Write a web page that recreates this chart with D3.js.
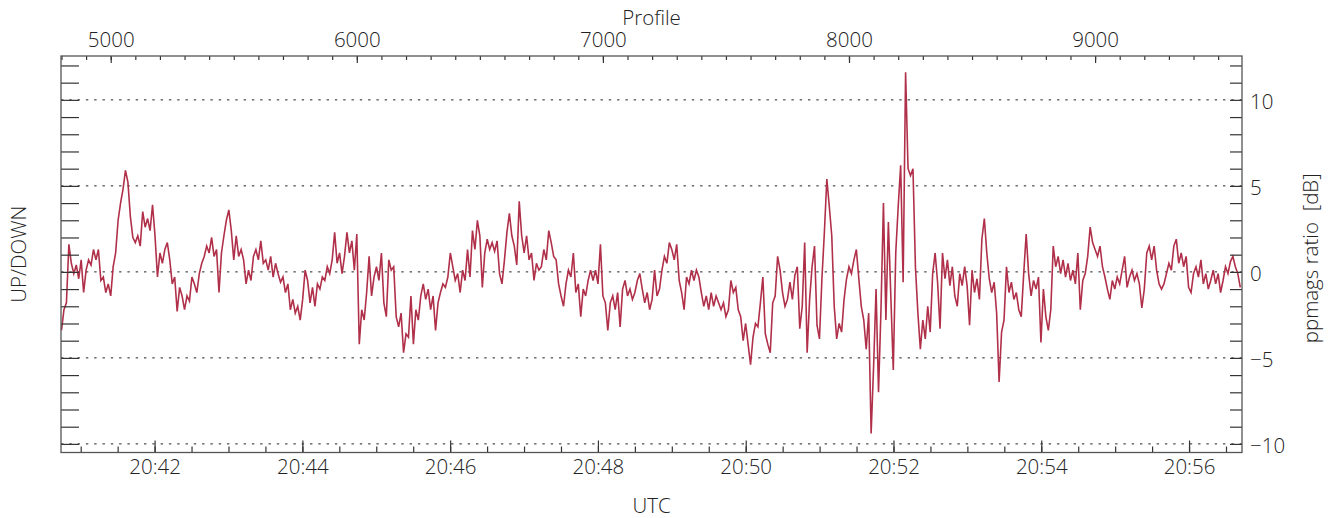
<!DOCTYPE html>
<html>
<head>
<meta charset="utf-8">
<script src="https://cdn.jsdelivr.net/npm/d3@7"></script>
<style>
  html, body { margin: 0; padding: 0; background: #fff; }
  svg { display: block; }
  .lbl { fill: #222; font-family: "Open Sans", "DejaVu Sans", sans-serif; font-size: 20.5px; font-weight: 300; }
</style>
</head>
<body>
<svg id="chart" width="1335" height="518"></svg>
<script>
// Profile numbering of the first sample and sampling step between samples
const profileStart = 4800;
const profileStep = 10;

// UP/DOWN power ratio in dB, one value per 10 profiles (rows of 100 profiles)
const ratioDb = [
  -3.4, -2.2, -1.8, 1.6, 0.5, -0.1, 0.4, -0.4, 0.7, -1.2,   // 4800
  0.1, 0.7, 0.4, 1.3, 0.7, 1.3, -0.5, -0.3, -1.2, -0.7,      // 4900
  -1.4, 0.3, 1.1, 3.0, 4.0, 4.8, 5.9, 5.2, 3.2, 2.0,         // 5000
  1.7, 2.1, 1.5, 3.5, 2.6, 3.1, 2.4, 3.9, 2.1, -0.3,         // 5100
  1.1, 0.5, 1.3, 1.7, 0.7, -0.7, -0.3, -2.3, -0.9, -1.4,     // 5200
  -2.2, -1.4, -1.7, -0.3, -0.7, -1.2, -0.1, 0.5, 0.9, 1.5,   // 5300
  1.1, 2.0, 0.9, 1.3, -1.2, 1.1, 2.1, 3.0, 3.6, 2.4,         // 5400
  0.7, 2.1, 0.9, 1.3, 0.7, -0.7, 0.1, -0.5, 0.9, 1.3,        // 5500
  0.7, 1.8, 0.5, 0.7, 0.1, 0.9, -0.3, 0.5, -0.1, -0.6,       // 5600
  -0.3, -1.2, -0.7, -2.2, -1.6, -2.4, -2.0, -2.8, -1.6, 0.1, // 5700
  -0.5, -1.8, -0.9, -2.0, -0.7, -1.0, -0.3, -0.5, 0.3, -0.1, // 5800
  0.7, 2.3, 0.5, 1.1, -0.1, 0.9, 2.3, 1.1, 1.8, 0.1,         // 5900
  2.2, -4.2, -2.2, -2.8, -1.2, 0.9, -1.4, -0.3, 0.3, -0.5,   // 6000
  1.1, -1.8, -2.6, 0.7, 0.1, 0.3, -2.6, -3.2, -2.4, -4.7,    // 6100
  -3.6, -3.8, -1.4, -4.2, -2.2, -2.8, -1.4, -0.7, -1.6, -1.0,// 6200
  -2.2, -1.4, -3.4, -1.8, -1.2, -0.7, -0.9, -0.3, 1.1, 0.3,  // 6300
  -0.5, -0.1, -1.2, 0.1, -0.5, 1.3, -0.3, 2.4, 1.3, 3.0,     // 6400
  2.1, -0.9, 1.1, 1.9, 1.3, 1.7, 1.2, 1.8, -0.1, -0.7,       // 6500
  0.7, 2.3, 3.4, 2.1, 1.5, 0.4, 4.1, 2.1, 1.1, 2.1,          // 6600
  0.7, 1.1, -0.5, 0.5, 0.1, 0.3, 1.3, 0.7, 2.4, 1.7,         // 6700
  0.9, 0.7, -0.7, -1.4, -2.0, -0.7, 0.1, -0.3, 1.1, -1.2,    // 6800
  -0.7, -2.6, -1.0, -1.4, -0.5, 0.1, -0.5, 0.1, -0.7, 1.6,   // 6900
  -1.4, -1.8, -3.4, -1.8, -1.4, -2.2, -1.2, -3.2, -1.0, -0.5,// 7000
  -1.4, -1.0, -1.6, -1.2, -0.5, -0.1, -1.0, -1.8, -1.2, -2.2,// 7100
  -1.6, 0.1, -1.4, -1.0, 0.1, 0.9, 0.5, 1.7, 1.3, 0.7,       // 7200
  1.6, -0.5, -1.2, -2.2, -0.3, -0.7, 0.1, -0.5, 0.1, -0.3,   // 7300
  -1.2, -2.0, -1.4, -2.2, -1.2, -2.0, -1.4, -1.8, -2.2, -1.8,// 7400
  -2.6, -2.2, -0.5, -1.2, -0.9, -2.2, -2.6, -4.0, -3.0, -4.2,// 7500
  -5.4, -3.8, -3.0, -3.2, -1.8, -0.3, -3.6, -4.2, -4.7, -1.8,// 7600
  -1.4, 0.9, 0.1, -1.2, -2.0, -1.6, -0.6, -1.6, -0.2, 0.3,   // 7700
  -3.3, -2.0, 1.7, -4.7, -1.6, 0.3, 1.5, -3.1, -3.9, -0.4,   // 7800
  2.3, 5.4, 3.8, 2.1, -2.0, -3.9, -3.0, -3.5, -1.6, -0.4,    // 7900
  0.3, -0.1, 0.7, 1.3, -0.4, -2.0, -2.8, -4.5, -2.4, -9.4,   // 8000
  -5.5, -1.0, -7.0, -2.2, 4.0, -2.8, 2.9, -1.4, -5.7, 1.1,   // 8100
  3.8, 6.2, -0.6, 11.6, 6.0, 5.6, 6.0, 0.3, -2.4, -4.5,      // 8200
  -2.8, -3.9, -2.0, -3.5, -0.1, 1.1, -0.6, -3.3, 1.1, -0.4,  // 8300
  0.7, -0.8, 0.3, -1.4, -2.0, -0.1, -0.8, 0.3, -0.8, -3.1,   // 8400
  0.1, -1.2, -0.4, -1.6, 1.9, 3.1, 1.1, -0.4, -1.2, -0.6,    // 8500
  -2.4, -6.4, -3.5, -2.8, 0.3, -1.2, -0.6, -1.6, -1.2, -2.2, // 8600
  -2.6, -0.1, 2.2, -0.1, -1.4, -0.5, -1.0, -0.3, -4.1, -1.0, // 8700
  -2.6, -3.4, -2.2, 1.5, 0.3, 0.9, -0.1, 0.7, -0.3, 0.5,     // 8800
  -0.5, 0.1, -0.7, 1.1, -2.2, -0.5, -0.1, 0.9, 2.6, 1.7,     // 8900
  1.3, 0.9, 1.5, 0.3, -0.3, -1.0, -1.6, -0.5, -1.0, -0.3,    // 9000
  -0.7, 0.1, 0.9, -0.9, -0.3, 0.1, -0.5, -0.1, -0.7, -2.1,   // 9100
  -1.0, 1.1, 1.5, 0.7, 1.5, 0.1, -0.7, -1.0, -0.7, -0.1,     // 9200
  0.5, 0.1, 1.5, 1.9, 0.5, 1.1, 0.3, 0.9, -0.9, -1.2,        // 9300
  -0.1, 0.3, -0.3, 0.7, -0.7, -0.1, -1.0, -0.5, 0.1, -0.7,   // 9400
  -0.1, -1.2, -0.5, 0.3, -0.1, 0.6, 0.9, 0.3, -0.1, -0.9     // 9500
];

// Axis extents and tick values
const profileDomain = [4798, 9597];
const dbDomain = [-10.5, 12.55];
const utcDomain = [new Date(Date.UTC(2000, 0, 1, 20, 40, 44.2)), new Date(Date.UTC(2000, 0, 1, 20, 56, 43.1))];
const profileMajorTicks = [5000, 6000, 7000, 8000, 9000];
const dbLabelTicks = [-10, -5, 0, 5, 10];
const dbGridLevels = [-10, -5, 0, 5, 10];

const margin = { left: 61, top: 56, right: 93, bottom: 65.5 };
const W = 1335, H = 518;
const iw = W - margin.left - margin.right;
const ih = H - margin.top - margin.bottom;

const svg = d3.select("#chart");
const g = svg.append("g").attr("transform", `translate(${margin.left},${margin.top})`);

const x = d3.scaleLinear().domain(profileDomain).range([0, iw]);
const y = d3.scaleLinear().domain(dbDomain).range([ih, 0]);
const t = d3.scaleUtc().domain(utcDomain).range([0, iw]);

// dotted reference levels
g.append("g").selectAll("line").data(dbGridLevels).join("line")
  .attr("x1", 0).attr("x2", iw)
  .attr("y1", d => y(d)).attr("y2", d => y(d))
  .attr("stroke", "#222").attr("stroke-width", 1)
  .attr("stroke-dasharray", "2.4,5.9");

// ratio trace
g.append("clipPath").attr("id", "plotclip")
  .append("rect").attr("width", iw).attr("height", ih);

const series = ratioDb.map((v, i) => ({ p: profileStart + i * profileStep, v }));
g.append("path")
  .datum(series)
  .attr("clip-path", "url(#plotclip)")
  .attr("fill", "none")
  .attr("stroke", "#b0304a")
  .attr("stroke-width", 1.6)
  .attr("stroke-linejoin", "miter")
  .attr("d", d3.line().x(d => x(d.p)).y(d => y(d.v)));

function styleAxis(sel) {
  sel.attr("font-family", null).attr("font-size", null);
  sel.select(".domain").remove();
  sel.selectAll(".tick line").attr("stroke", "#333").attr("stroke-width", 1.2);
  sel.selectAll(".tick text").attr("class", "lbl").attr("fill", null);
}

// top: profile axis (minor every 100, major every 1000)
const profileMinor = d3.range(4800, 9600, 100);
g.append("g").call(d3.axisTop(x).tickValues(profileMinor).tickSize(-4).tickFormat(""))
  .call(styleAxis);
g.append("g").call(d3.axisTop(x).tickValues(profileMajorTicks).tickSize(-7).tickPadding(9).tickFormat(d3.format("d")))
  .call(styleAxis);

// bottom: UTC axis (minor every 30 s, labels every 2 min)
g.append("g").attr("transform", `translate(0,${ih})`)
  .call(d3.axisBottom(t).ticks(d3.utcSecond.every(30)).tickSize(-6).tickFormat(""))
  .call(styleAxis);
g.append("g").attr("transform", `translate(0,${ih})`)
  .call(d3.axisBottom(t).ticks(d3.utcMinute.every(2)).tickSize(-12).tickPadding(7).tickFormat(d3.utcFormat("%H:%M")))
  .call(styleAxis);

// left: unlabelled ticks every 1 dB
const dbMinor = d3.range(-10, 13, 1);
g.append("g").call(d3.axisLeft(y).tickValues(dbMinor).tickSize(-18).tickFormat(""))
  .call(styleAxis);

// right: ticks every 1 dB, labels every 5 dB
g.append("g").attr("transform", `translate(${iw},0)`)
  .call(d3.axisRight(y).tickValues(dbMinor).tickSize(-12).tickFormat(""))
  .call(styleAxis);
g.append("g").attr("transform", `translate(${iw},0)`)
  .call(d3.axisRight(y).tickValues(dbLabelTicks).tickSize(0).tickPadding(8).tickFormat(d3.format("d")))
  .call(styleAxis)
  .selectAll(".tick text").attr("dy", "0.42em");

// frame
g.append("rect").attr("width", iw).attr("height", ih)
  .attr("fill", "none").attr("stroke", "#555").attr("stroke-width", 1.3);

// titles
svg.append("text").attr("class", "lbl").attr("text-anchor", "middle")
  .attr("x", margin.left + iw / 2).attr("y", 25).text("Profile");
svg.append("text").attr("class", "lbl").attr("text-anchor", "middle")
  .attr("x", margin.left + iw / 2).attr("y", 513).text("UTC");
svg.append("text").attr("class", "lbl").attr("text-anchor", "middle")
  .attr("transform", `translate(26,${margin.top + ih / 2}) rotate(-90)`).text("UP/DOWN");
svg.append("text").attr("class", "lbl").attr("text-anchor", "middle")
  .attr("transform", `translate(1318,${margin.top + ih / 2 + 4}) rotate(-90)`).text("ppmags ratio\u00a0\u00a0[dB]");
</script>
</body>
</html>
